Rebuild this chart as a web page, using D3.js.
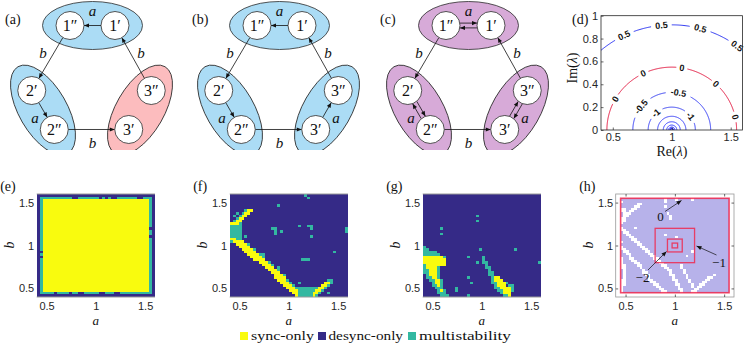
<!DOCTYPE html>
<html><head><meta charset="utf-8">
<script src="https://cdn.jsdelivr.net/npm/d3@7"></script>
<style>
body{margin:0;background:#fff}
svg{display:block}
</style></head>
<body><svg id="c" width="747" height="351"></svg>
<script>
// ================= DATA =================
const topPanelLabels = ["(a)", "(b)", "(c)", "(d)"];
const bottomPanelLabels = ["(e)", "(f)", "(g)", "(h)"];
const nodeIds = ["1pp", "1p", "2p", "2pp", "3pp", "3p"];
const nodeText = {"1pp": "1″", "1p": "1′", "2p": "2′", "2pp": "2″", "3pp": "3″", "3p": "3′"};
// [from, to, label, bidirectional]
const edgesA = [["1p","1pp","a",false],["1pp","2p","b",false],["2p","2pp","a",false],["2pp","3p","b",false],["3pp","1p","b",false]];
const edgesB = [["1p","1pp","a",false],["1pp","2p","b",false],["2p","2pp","a",false],["2pp","3p","b",false],["3pp","1p","b",false],["3p","3pp","a",false]];
const edgesC = [["1pp","1p","a",true],["1pp","2p","b",false],["2p","2pp","a",true],["2pp","3p","b",false],["3p","3pp","a",true],["3pp","1p","b",false]];
const clusterKindsA = ["blue","blue","red"];
const clusterKindsB = ["blue","blue","blue"];
const clusterKindsC = ["purple","purple","purple"];

// panel (d): contour levels of the eigenvalue map
const contourLevels = [0.5, 0, -0.5, -1, -1.5, -2, -2.5, -3, -3.5, -4];
const contourRadii  = [0.92, 0.55, 0.33, 0.2, 0.12, 0.072, 0.043, 0.026, 0.016, 0.0095];
const contourLabelText = ["0.5", "0", "-0.5", "-1"];
const contourLabelAngles = [[116, 95.5, 74.7, 53], [150.5, 116, 81, 47, 12], [142, 80], [132, 37]];
const dXTicks = [0.5, 1, 1.5], dXTickLabels = ["0.5", "1", "1.5"];
const dYTicks = [0, 0.2, 0.4, 0.6, 0.8, 1], dYTickLabels = ["0", "0.2", "0.4", "0.6", "0.8", "1"];

// heatmaps: rows top (b=1.6) to bottom (b=0.4), columns a=0.4..1.6
// '.' desync-only, 'Y' sync-only, 'T' multistability
const gridE = [
".......... .......... .......... ..........",
".TTTTTTTTT TT..TTTTTT T.T.T..TTT TTTT..TTT.",
".TYYYYYYYY YYYYYYYYYY YYYYYYYYYY YYYYYYYYT.",
".TYYYYYYYY YYYYYYYYYY YYYYYYYYYY YYYYYYYYT.",
".TYYYYYYYY YYYYYYYYYY YYYYYYYYYY YYYYYYYYT.",
".TYYYYYYYY YYYYYYYYYY YYYYYYYYYY YYYYYYYYT.",
".TYYYYYYYY YYYYYYYYYY YYYYYYYYYY YYYYYYYYT.",
".TYYYYYYYY YYYYYYYYYY YYYYYYYYYY YYYYYYYYT.",
".TYYYYYYYY YYYYYYYYYY YYYYYYYYYY YYYYYYYYT.",
".TYYYYYYYY YYYYYYYYYY YYYYYYYYYY YYYYYYYYT.",
".TYYYYYYYY YYYYYYYYYY YYYYYYYYYY YYYYYYYYT.",
".TYYYYYYYY YYYYYYYYYY YYYYYYYYYY YYYYYYYYT.",
".TYYYYYYYY YYYYYYYYYY YYYYYYYYYY YYYYYYYYT.",
".TYYYYYYYY YYYYYYYYYY YYYYYYYYYY YYYYYYYY..",
".TYYYYYYYY YYYYYYYYYY YYYYYYYYYY YYYYYYYYT.",
".TYYYYYYYY YYYYYYYYYY YYYYYYYYYY YYYYYYYYT.",
".TYYYYYYYY YYYYYYYYYY YYYYYYYYYY YYYYYYYY..",
".TYYYYYYYY YYYYYYYYYY YYYYYYYYYY YYYYYYYYT.",
".TYYYYYYYY YYYYYYYYYY YYYYYYYYYY YYYYYYYYT.",
".TYYYYYYYY YYYYYYYYYY YYYYYYYYYY YYYYYYYYT.",
".TYYYYYYYY YYYYYYYYYY YYYYYYYYYY YYYYYYYYT.",
".TYYYYYYYY YYYYYYYYYY YYYYYYYYYY YYYYYYYYT.",
"..YYYYYYYY YYYYYYYYYY YYYYYYYYYY YYYYYYYYT.",
".TYYYYYYYY YYYYYYYYYY YYYYYYYYYY YYYYYYYYT.",
"..YYYYYYYY YYYYYYYYYY YYYYYYYYYY YYYYYYYYT.",
".TYYYYYYYY YYYYYYYYYY YYYYYYYYYY YYYYYYYYT.",
".TYYYYYYYY YYYYYYYYYY YYYYYYYYYY YYYYYYYYT.",
".TYYYYYYYY YYYYYYYYYY YYYYYYYYYY YYYYYYYYT.",
".TYYYYYYYY YYYYYYYYYY YYYYYYYYYY YYYYYYYYT.",
".TYYYYYYYY YYYYYYYYYY YYYYYYYYYY YYYYYYYYT.",
".TYYYYYYYY YYYYYYYYYY YYYYYYYYYY YYYYYYYYT.",
".TYYYYYYYY YYYYYYYYYY YYYYYYYYYY YYYYYYYYT.",
".TYYYYYYYY YYYYYYYYYY YYYYYYYYYY YYYYYYYYT.",
".TYYYYYYYY YYYYYYYYYY YYYYYYYYYY YYYYYYYYT.",
".TYYYYYYYY YYYYYYYYYY YYYYYYYYYY YYYYYYYYT.",
".TYYYYYYYY YYYYYYYYYY YYYYYYYYYY YYYYYYYYT.",
".TYYYYYYYY YYYYYYYYYY YYYYYYYYYY YYYYYYYYT.",
".TYYYYYYYY YYYYYYYYYY YYYYYYYYYY YYYYYYYYT.",
".TTTTT.TTT T.TT..TTTT T..TTT..TT TTTTTTTTT.",
".......... .......... .......... .........."
];
const gridF = [
".......... .......... .....T.... ..........",
".......... .......... ......T... ..........",
".......... .......... .......... ..........",
".......... .......... .......... ..........",
".......... ......T... .......... ..........",
".......... .......... .......... ..........",
".....TYY.. .......... .......... ..........",
"..T.TYY... .......... .......... ..........",
".T.TYY.... .......... .......... ..........",
"..TYY..... .......... .......... ..........",
".TYY...... .......... .......... ..........",
"YYYT...... .......... .......... ..........",
"TTTT...... .......... ...T..TT.. ..........",
"TTTT...... ....TT.... .......T.. .........T",
"TTTT...... .....T.T.. .......... .........T",
"TTTT...... .....T.... .......... ..........",
"TTTT.T.... .......... .......T.. ..........",
"YYTT...... .......... .......... ..........",
"TYYYY..... .......... .......... ..........",
"..YYYYT... .......... .......... ..........",
"...YYYY... .......... .......... ..........",
"....YYYYT. .......... .......... ..........",
".....YYYY. .......... .......... .....T....",
"......YYYY TT........ .......... ..........",
".......YYY YT........ .......... ..........",
"........YY YY........ ....TTT... ..........",
".......... YYYT...... .......... ..........",
".......... .YYYT..... .......... ..........",
".......... ..YYY.T... .......... ..........",
".......... ...YYYT... .......... ..........",
".......... ....YYY... .......... ..........",
".......... .....YYYT. .......... ..........",
".......... .....YYYY. .......... ..........",
".......... ......YYYT .......... ...TT.....",
".......... .......YYY T..T...... ..YYT.....",
".......... ........YY YT........ .YYT......",
".......... .........Y YYTTTTTTTT YYT.......",
".......... .......... YYYTTTTTTY YT........",
".......... .......... .YYTTTTTYY T..T......",
".......... .......... ..YTTTTTYT .........."
];
const gridG = [
".......... .......... .......... ..........",
".......... .......... .......... ..........",
".......... .......... .......... ..........",
".......... .......... .......... ..........",
".......... .......... .......... ..........",
".......... .......... .......... ..........",
".......... .......... .......... ..........",
".......... .......... .......... ..........",
".......... ........T. .......... ..........",
".......... .......... .......... ..........",
".......... ........T. .......... ..........",
".......... .......... .......... ..........",
".......... .......... .......... ..........",
"......T... .......... .......... ..........",
".......... .......... .......... ..........",
"......T... .......... .......... ..........",
".......... .......... .......... ..........",
".......... .......... .......... ..........",
".......... .......... .......... ..........",
".......... .......... .......... ..........",
"T......... .......... .......... ..........",
"TT........ .........T .......... .T........",
"TTTTT..... .......... .......... ..........",
"TTTTTT.... .......... .......... ..........",
"YYYYYYYT.. .....T.... T......... ..........",
"YYYYYYYY.. .......... T......... ..........",
"YYYYYYYY.. ........T. TT........ .........T",
"TYYYYYYY.. .......... .T........ ..........",
"TYYYYT.... .......... .TT....... ..........",
"TTYYYT.... .......... ..T....... ..........",
"TTYYYT.... .......... ..TT...... ..........",
".TYYYT.... .......... ..TT...... ..........",
".TTYYT.... .....T.... ...TYY.... ..........",
"..TTYYT... .......... ...TYYY... ..........",
"...TYYT... ......T... ...TTYYYT. ..........",
"...TTYT... .......... ....TYYY.T T.........",
"....TTT... .T........ ....TTYYYY T.........",
".....TYT.. .T........ .....TTYYY T.........",
".....TTT.. .......... ......TYYY ..........",
"......TTT. .....T.... .......TTY .........."
];
// panel (h): rows b=1.55..0.45, cols a=0.45..1.55; 'P' region, 'o' empty
const gridH = [
"PPPPPPPPPP PPPPPPoPPP oPPPPPoPPP PPPPPPPPPP",
"oPPPPPPPPP PPPPPPoPPP PPPPPPPPPP PPPPPPPPPP",
"PPPPPPooPP PPPPPPPPPP PPPPPPPPPP PPPPPPPPPP",
"PPPPPooPPP PPPPPPoPPP PPPPPPPPPP PPPPPPPPPP",
"ooPPooPPPP PPPPPPPPPP PPPPPPPPPP PPPPPPPPPP",
"ooPooPPPPP PPPPPPPPPP PPPPPPPPPP PPPPPPPPPP",
"PoooPPPPPP PPPPPPPoPP PPPPPPPPPP PPPPPPPPPP",
"PooPPPPPPP PPPPPPPPoP PPPPPPPPPP PPPPPPPPPP",
"ooPPPPPPPP PPPPPPPPoP PPPPPPPPPP PPPPPPPPPP",
"ooPPPPPPPP PPPPPPPPPP PPPPPPPPPP PPPPPPPPPP",
"oPPPPPPPPP PPPPPPPPPP PPPPPPPPPP PPPPPPPPPP",
"PPPPPPPPPP PPPPPPPPPP PPPPPPPPPP PPPPPPPPPP",
"oPPPPoPPPP PPPPPPPPPP PPPPPPPPPP PPPPPPPPPP",
"ooPPPPPPPP PPPPPPPPPP PPPPPPPPPP PPPPPPPPPP",
"PooPPPPPPP PPPPPPPPPP PPPPPPPPPP PPPPPPPPPP",
"PPooPPPPPP PPPPPPoPPP PPPPPPPPPP PPPPPPPPPP",
"PPPooPPPPP PPPPPPPPPP oPPPPPPPPP PPPPPPPPPP",
"PPPPooPPPP PPPPPPPPPP PPPPPPPPPP PPPPPPPPPP",
"oPPPPooPPP PPPPPPPPPP PPPPPPPPPP PPPPPPPPPP",
"PPPPPPooPP PPPPPPPPPP PPPPPPPPPP PPPPPPPPPP",
"oPPPPPPooP PPPPPPPPPP PPPPPPPPPP PPPPPPPPPP",
"ooPPPPPPoo PPPPPPPPPP PPPPPPPPPP PPPPPPPPPP",
"PooPPPPPPo oPPPPPPPPP PPPPPPoPPP PPPPPPPPPP",
"PPooPPPPPP ooPPPPPPPP PPPPPPPPPP PPPPPPPPPP",
"PPPoPPPPPP PooPPPPPPP PPPPoPPPPP PPPPPPPPPP",
"oPPooPPPPP PPooPPPPPP PPPPPPPPPP PPPPPPPPPP",
"oPPPooPPPP PPPooPPPPP PPPPPPPPPP PPPPPPPPPP",
"oPPPPooPPP PPPPooPPPP PPPPPPPPPP PPPPPPPPPP",
"ooPPPPooPP PPPPPooPPP PPoPPPPPPP PPPPPPPPPP",
"ooPPPPPoPP PPPPPPooPP PPoPPPPPPP PPPPPPPPPP",
"PoPPPPPPoP PPPPPPPooP PPPoPPPPPP PPPPPPPPPP",
"PoPPPPPPoo PPPPPPPPoP PPPoPPPPPP PPPPPPPPPP",
"PoPPPPPPPo oPPPPPPPoo PPPPoPPPPP PPPPoPPPPP",
"PoPPPPPPPP oPPPPPPPPo PPPPoPPPPP PPooPPPPPP",
"ooPPPPPPPP ooPPPPPPPo oPPPPoPPPP PooPPPPPPP",
"ooPPPPPPPP PooPPPPPPP oPPPPoPPPP ooPPPPPPPP",
"ooPPPPPPPP PPooPPPPPP ooPPPPoPPo oPPPPPPPPP",
"oPPPPPPPPP PPPooPPPPP PoPPPPoPoo PPPPPPPPPP",
"oPPPPPPPPP PPPPooPPPP PooPPPPooP PPPPPPPPPP",
"oPPPPPPPPP PPPPPooPPP PPoPPPooPP PPPPPPPPPP"
];
const heatExtentEFG = [0.4, 1.6];
const heatExtentH = [0.45, 1.55];
const axisLim = [0.4, 1.6];
const heatTicks = [0.5, 1, 1.5], heatTickLabels = ["0.5", "1", "1.5"];
// panel (h) nested boxes (half widths around (1,1)) and annotations
const boxHalfWidths = [0.55, 0.2, 0.075, 0.028];
const boxAnnotations = ["0", "−1", "−2"];
const legendLabels = ["sync-only", "desync-only", "multistability"];
const legendKeys = ["Y", ".", "T"];

// ================= STYLE / LAYOUT =================
const SERIF = "Liberation Serif, Times New Roman, serif";
const SANS = "Liberation Sans, Arial, Helvetica, sans-serif";
const AXC = "#262626";
const heatColors = {".": "#352a87", "Y": "#f9fb0e", "T": "#33b8a1", "P": "#b7b2ea", "o": "#ffffff"};
const clusterColors = {blue: "#abdcf5", red: "#fcbcbe", purple: "#d7aad8"};

const svg = d3.select("#c");
const defs = svg.append("defs");
defs.append("marker").attr("id", "ah").attr("viewBox", "0 0 10 10")
  .attr("refX", 10).attr("refY", 5).attr("markerWidth", 6).attr("markerHeight", 5)
  .attr("markerUnits", "userSpaceOnUse").attr("orient", "auto")
  .append("path").attr("d", "M0,0.8 L10,5 L0,9.2 Z").attr("fill", "#111");
defs.append("clipPath").attr("id", "topclip").append("rect")
  .attr("x", 0).attr("y", 0).attr("width", 747).attr("height", 150);

// ---------- graphs (a)-(c) ----------
const C1 = [92.5, 25.5], C2 = [43, 110], C3 = [140, 110];
const half = 22.5, c60 = Math.cos(Math.PI / 3), s60 = Math.sin(Math.PI / 3);
const nodePos = {
  "1pp": [C1[0] - half, C1[1]], "1p": [C1[0] + half, C1[1]],
  "2p": [C2[0] - half * c60, C2[1] - half * s60], "2pp": [C2[0] + half * c60, C2[1] + half * s60],
  "3pp": [C3[0] + half * c60, C3[1] - half * s60], "3p": [C3[0] - half * c60, C3[1] + half * s60]
};
const clusterGeom = [{c: C1, rot: 0}, {c: C2, rot: 60}, {c: C3, rot: -60}];
const edgeLabelPos = {
  "1p|1pp": [92.5, 11], "2p|2pp": [35, 118], "3p|3pp": [149, 118],
  "1pp|2p": [43, 53], "1p|3pp": [141, 53], "2pp|3p": [92.5, 143]
};
const NR = 14;
const graphPanels = [
  {dx: 0, edges: edgesA, kinds: clusterKindsA, label: topPanelLabels[0], lx: 5},
  {dx: 187, edges: edgesB, kinds: clusterKindsB, label: topPanelLabels[1], lx: 192},
  {dx: 376, edges: edgesC, kinds: clusterKindsC, label: topPanelLabels[2], lx: 380}
];
const topG = svg.append("g").attr("clip-path", "url(#topclip)");
graphPanels.forEach(p => {
  const g = topG.append("g").attr("transform", `translate(${p.dx},0)`);
  clusterGeom.forEach((cg, i) => {
    g.append("ellipse").attr("cx", 0).attr("cy", 0).attr("rx", 50).attr("ry", 24)
      .attr("transform", `translate(${cg.c[0]},${cg.c[1]}) rotate(${cg.rot})`)
      .attr("fill", clusterColors[p.kinds[i]]).attr("stroke", "#2a2a2a").attr("stroke-width", 0.8);
  });
  p.edges.forEach(e => {
    const [a, b, lab, dbl] = e;
    const pa = nodePos[a], pb = nodePos[b];
    const vx = pb[0] - pa[0], vy = pb[1] - pa[1], L = Math.hypot(vx, vy);
    const ux = vx / L, uy = vy / L, nx = -uy, ny = ux;
    const offs = dbl ? [-2.4, 2.4] : [0];
    offs.forEach((o, k) => {
      let s = [pa[0] + ux * NR + nx * o, pa[1] + uy * NR + ny * o];
      let t = [pb[0] - ux * NR + nx * o, pb[1] - uy * NR + ny * o];
      if (dbl && k === 1) { const tmp = s; s = t; t = tmp; }
      g.append("line").attr("x1", s[0]).attr("y1", s[1]).attr("x2", t[0]).attr("y2", t[1])
        .attr("stroke", "#111").attr("stroke-width", 0.8).attr("marker-end", "url(#ah)");
    });
    const key = [a, b].sort().join("|");
    const lp = edgeLabelPos[key];
    g.append("text").attr("x", lp[0]).attr("y", lp[1]).attr("text-anchor", "middle")
      .attr("dominant-baseline", "central").attr("font-family", SERIF).attr("font-style", "italic")
      .attr("font-size", 15).attr("fill", "#111").text(lab);
  });
  nodeIds.forEach(id => {
    const pp = nodePos[id];
    g.append("circle").attr("cx", pp[0]).attr("cy", pp[1]).attr("r", NR)
      .attr("fill", "#fff").attr("stroke", "#2a2a2a").attr("stroke-width", 0.8);
    g.append("text").attr("x", pp[0]).attr("y", pp[1] + 5.5).attr("text-anchor", "middle")
      .attr("font-family", SERIF).attr("font-size", 16).attr("fill", "#111").text(nodeText[id]);
  });
  svg.append("text").attr("x", p.lx).attr("y", 24).attr("font-family", SERIF).attr("font-size", 14)
    .attr("fill", "#111").text(p.label);
});

// ---------- (d) contours ----------
const xD = d3.scaleLinear().domain([0.4, 1.6]).range([601, 742.5]);
const yD = d3.scaleLinear().domain([0, 1]).range([130, 15.7]);
defs.append("clipPath").attr("id", "dclip").append("rect")
  .attr("x", 601).attr("y", 15.7).attr("width", 141.5).attr("height", 114.3);
const dG = svg.append("g").attr("clip-path", "url(#dclip)");
const kx = (xD(1) - xD(0)), ky = (yD(0) - yD(1));
const lineGen = d3.line().x(d => d[0]).y(d => d[1]);
contourLevels.forEach((lev, i) => {
  const r = contourRadii[i];
  const col = lev === 0 ? "#e3173f" : "#2b35f2";
  const labs = i < contourLabelAngles.length ? contourLabelAngles[i] : [];
  const txt = i < contourLabelText.length ? contourLabelText[i] : "";
  const rpx = r * (kx + ky) / 2;
  const gapHalf = (txt.length * 5.1 / 2 + 2.5) / rpx * 180 / Math.PI;
  const segs = []; let cur = [];
  for (let th = 0; th <= 180.001; th += 0.5) {
    const inGap = labs.some(a => Math.abs(th - a) < gapHalf);
    if (inGap) { if (cur.length > 1) segs.push(cur); cur = []; continue; }
    const rad = th * Math.PI / 180;
    cur.push([xD(1 + r * Math.cos(rad)), yD(r * Math.sin(rad))]);
  }
  if (cur.length > 1) segs.push(cur);
  segs.forEach(s => dG.append("path").attr("d", lineGen(s)).attr("fill", "none")
    .attr("stroke", col).attr("stroke-width", 1));
  labs.forEach(a => {
    const rad = a * Math.PI / 180;
    const px = xD(1 + r * Math.cos(rad)), py = yD(r * Math.sin(rad));
    const ang = Math.atan2(Math.cos(rad) * ky, Math.sin(rad) * kx) * 180 / Math.PI;
    svg.append("text").attr("transform", `translate(${px},${py}) rotate(${ang})`)
      .attr("text-anchor", "middle").attr("dominant-baseline", "central")
      .attr("font-family", SANS).attr("font-weight", "bold").attr("font-size", 9)
      .attr("fill", "#111").text(txt);
  });
});
svg.append("rect").attr("x", 601).attr("y", 15.7).attr("width", 141.5).attr("height", 114.3)
  .attr("fill", "none").attr("stroke", AXC).attr("stroke-width", 0.8);
function styleAxis(g, fs) {
  g.attr("font-family", SANS).attr("font-size", fs).attr("color", AXC);
  g.select(".domain").remove();
  g.selectAll(".tick line").attr("stroke-width", 0.7);
}
svg.append("g").attr("transform", "translate(0,130)")
  .call(d3.axisBottom(xD).tickValues(dXTicks).tickFormat((d, i) => dXTickLabels[i])
    .tickSizeInner(-2.5).tickSizeOuter(0).tickPadding(3.5)).call(g => styleAxis(g, 11));
svg.append("g").attr("transform", "translate(601,0)")
  .call(d3.axisLeft(yD).tickValues(dYTicks).tickFormat((d, i) => dYTickLabels[i])
    .tickSizeInner(-2.5).tickSizeOuter(0).tickPadding(3)).call(g => styleAxis(g, 11));
svg.append("text").attr("x", 572).attr("y", 24).attr("font-family", SERIF).attr("font-size", 14)
  .attr("fill", "#111").text(topPanelLabels[3]);
const imT = svg.append("text").attr("transform", "translate(577,68) rotate(-90)").attr("text-anchor", "middle")
  .attr("font-family", SERIF).attr("font-size", 14).attr("fill", "#111");
imT.append("tspan").text("Im(");
imT.append("tspan").attr("font-style", "italic").text("λ");
imT.append("tspan").text(")");
const reT = svg.append("text").attr("x", 672).attr("y", 156).attr("text-anchor", "middle")
  .attr("font-family", SERIF).attr("font-size", 14).attr("fill", "#111");
reT.append("tspan").text("Re(");
reT.append("tspan").attr("font-style", "italic").text("λ");
reT.append("tspan").text(")");

// ---------- heatmaps (e)-(h) ----------
const heatLefts = [36.7, 229.7, 422.7, 615.7];
const PW = 118.3, PB = 297, PT = 194;
const heatPanels = [
  {grid: gridE, ext: heatExtentEFG}, {grid: gridF, ext: heatExtentEFG},
  {grid: gridG, ext: heatExtentEFG}, {grid: gridH, ext: heatExtentH}
];
heatPanels.forEach((hp, pi) => {
  const L = heatLefts[pi];
  const xs = d3.scaleLinear().domain(axisLim).range([L, L + PW]);
  const ys = d3.scaleLinear().domain(axisLim).range([PB, PT]);
  const rows = hp.grid.map(r => r.replace(/ /g, ""));
  const nr = rows.length, nc = rows[0].length;
  const dxv = (hp.ext[1] - hp.ext[0]) / nc, dyv = (hp.ext[1] - hp.ext[0]) / nr;
  const cells = [];
  rows.forEach((row, j) => row.split("").forEach((ch, i) => cells.push({i, j, ch})));
  const g = svg.append("g").attr("shape-rendering", "crispEdges");
  g.selectAll("rect").data(cells.filter(c => heatColors[c.ch])).join("rect")
    .attr("x", c => xs(hp.ext[0] + c.i * dxv))
    .attr("y", c => ys(hp.ext[1] - c.j * dyv))
    .attr("width", c => xs(hp.ext[0] + (c.i + 1) * dxv) - xs(hp.ext[0] + c.i * dxv) + 0.4)
    .attr("height", c => ys(hp.ext[1] - (c.j + 1) * dyv) - ys(hp.ext[1] - c.j * dyv) + 0.4)
    .attr("fill", c => heatColors[c.ch]);
  const isH = pi === 3;
  if (isH) {
    svg.append("rect").attr("x", L).attr("y", PT).attr("width", PW).attr("height", PB - PT)
      .attr("fill", "none").attr("stroke", "#9a9a9a").attr("stroke-width", 0.8);
  } else {
    [PT, PB].forEach(yy => svg.append("line").attr("x1", L).attr("x2", L + PW).attr("y1", yy).attr("y2", yy)
      .attr("stroke", "#9a9a9a").attr("stroke-width", 1));
  }
  const tk = isH ? -2.5 : 0;
  svg.append("g").attr("transform", `translate(0,${PB})`)
    .call(d3.axisBottom(xs).tickValues(heatTicks).tickFormat((d, i) => heatTickLabels[i])
      .tickSizeInner(tk).tickSizeOuter(0).tickPadding(5)).call(g => styleAxis(g, 11));
  svg.append("g").attr("transform", `translate(${L},0)`)
    .call(d3.axisLeft(ys).tickValues(heatTicks).tickFormat((d, i) => heatTickLabels[i])
      .tickSizeInner(tk).tickSizeOuter(0).tickPadding(2.5)).call(g => styleAxis(g, 11));
  if (isH) {
    svg.append("g").attr("transform", `translate(0,${PT})`)
      .call(d3.axisTop(xs).tickValues(heatTicks).tickFormat("").tickSizeInner(-2.5).tickSizeOuter(0))
      .call(g => styleAxis(g, 11));
    svg.append("g").attr("transform", `translate(${L + PW},0)`)
      .call(d3.axisRight(ys).tickValues(heatTicks).tickFormat("").tickSizeInner(-2.5).tickSizeOuter(0))
      .call(g => styleAxis(g, 11));
    boxHalfWidths.forEach((hw, k) => {
      svg.append("rect").attr("x", xs(1 - hw)).attr("y", ys(1 + hw))
        .attr("width", xs(1 + hw) - xs(1 - hw)).attr("height", ys(1 - hw) - ys(1 + hw))
        .attr("fill", "none").attr("stroke", "#f0284e").attr("stroke-opacity", 0.85)
        .attr("stroke-width", k === 0 ? 1.6 : 1.3);
    });
    const ann = [
      {t: boxAnnotations[0], tx: 660.5, ty: 221, x1: 665, y1: 211.5, x2: 681.5, y2: 200.5},
      {t: boxAnnotations[1], tx: 719, ty: 266.5, x1: 716.5, y1: 255, x2: 696.5, y2: 246},
      {t: boxAnnotations[2], tx: 642.5, ty: 282, x1: 648, y1: 270, x2: 666.5, y2: 251.5}
    ];
    ann.forEach(a => {
      svg.append("line").attr("x1", a.x1).attr("y1", a.y1).attr("x2", a.x2).attr("y2", a.y2)
        .attr("stroke", "#111").attr("stroke-width", 0.7).attr("marker-end", "url(#ah)");
      svg.append("text").attr("x", a.tx).attr("y", a.ty).attr("text-anchor", "middle")
        .attr("font-family", SERIF).attr("font-size", 13).attr("fill", "#111").text(a.t);
    });
  }
  // axis titles
  svg.append("text").attr("x", L + PW / 2).attr("y", 325).attr("text-anchor", "middle")
    .attr("font-family", SERIF).attr("font-style", "italic").attr("font-size", 13).attr("fill", "#111").text("a");
  svg.append("text").attr("transform", `translate(${L - 27},245) rotate(-90)`).attr("text-anchor", "middle")
    .attr("dominant-baseline", "central")
    .attr("font-family", SERIF).attr("font-style", "italic").attr("font-size", 14).attr("fill", "#111").text("b");
  svg.append("text").attr("x", L - 36.5).attr("y", 191).attr("font-family", SERIF).attr("font-size", 14)
    .attr("fill", "#111").text(bottomPanelLabels[pi]);
});

// ---------- legend ----------
const legX = [240, 318, 408], legTX = [251, 328.5, 419], legW = [63, 74.5, 92];
legendLabels.forEach((lab, i) => {
  svg.append("rect").attr("x", legX[i]).attr("y", 332).attr("width", 8).attr("height", 8)
    .attr("fill", heatColors[legendKeys[i]]);
  svg.append("text").attr("x", legTX[i]).attr("y", 340).attr("font-family", SERIF).attr("font-size", 13)
    .attr("textLength", legW[i]).attr("lengthAdjust", "spacingAndGlyphs").attr("fill", "#111").text(lab);
});
</script>
</body></html>
